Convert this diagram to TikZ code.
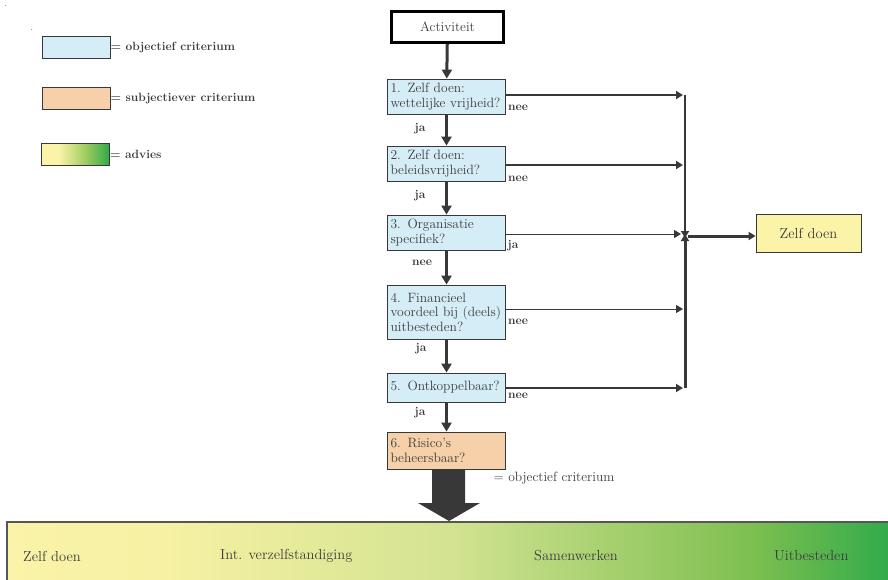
\documentclass[tikz,border=0pt]{standalone}
\usetikzlibrary{arrows.meta, positioning}

\definecolor{critblue}{HTML}{D5EDF6}
\definecolor{critorange}{HTML}{F5D0A8}
\definecolor{advA}{HTML}{FAF3A8}
\definecolor{advB}{HTML}{F6F1A3}
\definecolor{advC}{HTML}{D3E391}
\definecolor{advD}{HTML}{7DBF50}
\definecolor{advE}{HTML}{2EAA4A}
\definecolor{advLeg}{HTML}{9CCB5E}
\definecolor{linegray}{HTML}{383838}
\definecolor{textgray}{HTML}{3C3C3C}

\pgfdeclarehorizontalshading{adviesbar}{100bp}{color(0bp)=(advA); color(25bp)=(advA); color(34bp)=(advB); color(50bp)=(advC); color(67bp)=(advD); color(75bp)=(advE); color(100bp)=(advE)}
\pgfdeclarehorizontalshading{adviesleg}{100bp}{color(0bp)=(advA); color(25bp)=(advA); color(38bp)=(advA); color(58bp)=(advLeg); color(75bp)=(advE); color(100bp)=(advE)}

\tikzset{
	crit/.style = {draw = linegray, line width = 0.8pt, fill = critblue, text = textgray, align = left, text width = 112pt, inner xsep = 3pt, inner ysep = 1pt, font = \fontsize{13.5}{14.5}\selectfont},
	answer/.style = {font = \bfseries\fontsize{12}{12}\selectfont, text = linegray, inner sep = 0pt},
	legbox/.style = {draw = linegray, line width = 0.8pt, minimum width = 68pt, minimum height = 22pt, inner sep = 0pt},
	legtext/.style = {font = \bfseries\fontsize{12}{12}\selectfont, text = textgray, inner sep = 0pt, anchor = west},
	barlabel/.style = {font = \fontsize{14.5}{14.5}\selectfont, text = textgray, inner sep = 0pt, anchor = west},
	flow/.style = {draw = linegray, line width = 3pt, -{Triangle[width = 10pt, length = 9pt]}},
	feed/.style = {draw = linegray, line width = 2.5pt, -{Triangle[width = 8pt, length = 7pt]}},
	thinfeed/.style = {draw = linegray, line width = 1pt, -{Triangle[width = 8pt, length = 7pt]}}
}

\begin{document}
\begin{tikzpicture}[x = 1pt, y = -1pt]

	\useasboundingbox (0, 0) rectangle (888, 579);

	% Stray dots

	\node [inner sep = 0pt, font = \small] (dotA) at (6, 6) {.};
	\node [inner sep = 0pt, font = \small] (dotB) at (32, 30) {.};

	% Legend

	\node [legbox, fill = critblue] (legObj) at (76, 47) {};
	\node [legtext] (legObjText) at (legObj.east) {= objectief criterium};
	\node [legbox, fill = critorange] (legSubj) at (76, 98.5) {};
	\node [legtext] (legSubjText) at (legSubj.east) {= subjectiever criterium};
	\node [legbox, shading = adviesleg] (legAdv) at (75.5, 154.5) {};
	\node [legtext] (legAdvText) at (legAdv.east) {= advies};

	% Decision chain

	\node [draw = black, line width = 3pt, fill = white, minimum width = 112pt, minimum height = 31pt, text = textgray, font = \fontsize{13.5}{14.5}\selectfont] (act) at (447.5, 27) {Activiteit};

	\node [crit, minimum height = 35pt] (q1) at (446.5, 96.5) {1. Zelf doen:\\wettelijke vrijheid?};
	\node [crit, minimum height = 35pt] (q2) at (446.5, 163.5) {2. Zelf doen:\\beleidsvrijheid?};
	\node [crit, minimum height = 35pt] (q3) at (446.5, 232.5) {3. Organisatie\\specifiek?};
	\node [crit, minimum height = 54pt] (q4) at (446.5, 312) {4. Financieel\\voordeel bij (deels)\\uitbesteden?};
	\node [crit, minimum height = 29pt] (q5) at (446.5, 387.5) {5. Ontkoppelbaar?};
	\node [crit, minimum height = 37pt, fill = critorange] (q6) at (446.5, 450.5) {6. Risico's\\beheersbaar?};

	\draw [flow] (act) -- (q1);
	\draw [flow] (q1) -- (q2);
	\draw [flow] (q2) -- (q3);
	\draw [flow] (q3) -- (q4);
	\draw [flow] (q4) -- (q5);
	\draw [flow] (q5) -- (q6);

	% Answers

	\node [answer] (nee1) at (518, 108) {nee};
	\node [answer] (ja1) at (420, 129) {ja};
	\node [answer] (nee2) at (518, 179) {nee};
	\node [answer] (ja2) at (420, 196) {ja};
	\node [answer] (ja3) at (513, 246) {ja};
	\node [answer] (nee3) at (422, 263) {nee};
	\node [answer] (nee4) at (518, 322) {nee};
	\node [answer] (ja4) at (421, 349) {ja};
	\node [answer] (nee5) at (518, 396) {nee};
	\node [answer] (ja5) at (420, 413) {ja};

	% Collecting line to "Zelf doen"

	\coordinate (join) at (685, 236);
	\node [draw = linegray, line width = 0.8pt, fill = advA, minimum width = 105pt, minimum height = 38pt, text = textgray, font = \fontsize{14.5}{14.5}\selectfont] (zelf) at (808.5, 233) {Zelf doen};

	\draw [feed] (q1.east |- 0, 95) -- (683, 95) coordinate (in1);
	\draw [feed] (q2.east |- 0, 165) -- (683, 165) coordinate (in2);
	\draw [thinfeed] (q3.east |- 0, 234) -- (681, 234) coordinate (in3);
	\draw [thinfeed] (q4.east |- 0, 309) -- (683, 309) coordinate (in4);
	\draw [feed] (q5.east |- 0, 388) -- (683, 388) coordinate (in5);

	\draw [draw = linegray, line width = 2pt, -{Triangle[width = 8pt, length = 7pt]}] (in1 -| join) -- ([yshift = -2pt] join);
	\draw [draw = linegray, line width = 3pt, -{Triangle[width = 8pt, length = 7pt]}] (in5 -| join) -- ([yshift = 2pt] join);
	\draw [flow, -{Triangle[width = 8pt, length = 7pt]}] ([xshift = 3pt] join) -- (join -| zelf.west);

	% Outcome arrow and advice bar

	\node [font = \fontsize{13.5}{14.5}\selectfont, text = textgray, inner sep = 0pt] (objNote) at (554, 478) {= objectief criterium};

	\fill [linegray] (432, 469) -- (432, 503) -- (418, 503) -- (449, 521) -- (480, 503) -- (465, 503) -- (465, 469) -- cycle;

	\draw [draw = linegray!85, line width = 1.2pt, shading = adviesbar] (7, 522) rectangle (896, 592);

	\node [barlabel] (bar1) at (23, 556) {Zelf doen};
	\node [barlabel] (bar2) at (220, 556) {Int. verzelfstandiging};
	\node [barlabel] (bar3) at (534, 556) {Samenwerken};
	\node [barlabel] (bar4) at (774, 556) {Uitbesteden};

\end{tikzpicture}
\end{document}
